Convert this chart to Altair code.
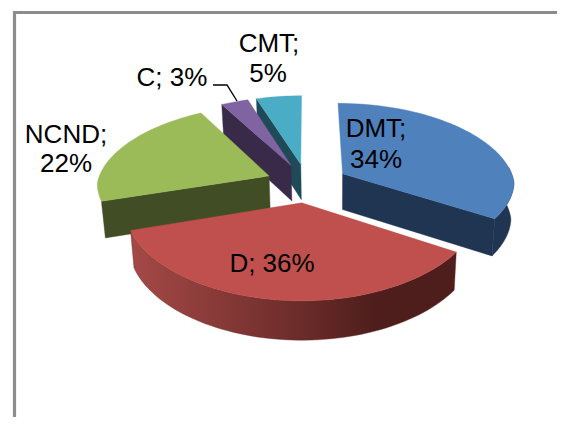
import math
import altair as alt
import pandas as pd

# ---- values
categories = ["DMT", "D", "NCND", "C", "CMT"]
shares = [34, 36, 22, 3, 5]
top_colors = ["#4F81BD", "#C0504D", "#9BBB59", "#8064A2", "#4BACC6"]
side_colors = ["#1F3552", "#7A302E", "#414D24", "#3A2A4A", "#1F4A58"]
label_lines = [["DMT;", "34%"], ["D; 36%"], ["NCND;", "22%"], ["C; 3%"], ["CMT;", "5%"]]

# ---- layout of the tilted, exploded pie (page pixels)
XC, YC, A, B, KX_BACK, KX_FRONT, KY, EXPLODE, DEPTH = 307, 183, 172, 81, 0.15, 0.08, 0.12, 0.24, 36
label_at = [[(376, 137), (376, 168)], [(272, 272)], [(66, 143), (66, 172)],
            [(172, 86)], [(269, 52), (268, 82)]]


def project(u, v, low=False):
    kx = KX_BACK if v > 0 else KX_FRONT
    x = XC + A * u / (1 + kx * v)
    y = YC - B * v / (1 + KY * v)
    if low:
        x += -0.017 * (x - 335)
        y += DEPTH / (1 + 0.07 * v)
    return x, y


bounds = []
total = 0
for s in shares:
    bounds.append((total * 3.6, (total + s) * 3.6))
    total += s


def offset(i):
    mid = math.radians(sum(bounds[i]) / 2)
    return EXPLODE * math.sin(mid), EXPLODE * math.cos(mid)


def rim(i, a0, a1, low=False):
    ox, oy = offset(i)
    n = max(2, int(abs(a1 - a0) / 2))
    pts = []
    for j in range(n + 1):
        t = math.radians(a0 + (a1 - a0) * j / n)
        pts.append(project(ox + math.sin(t), oy + math.cos(t), low))
    return pts


def apex(i, low=False):
    ox, oy = offset(i)
    return project(ox, oy, low)


def top(i):
    a0, a1 = bounds[i]
    return [apex(i)] + rim(i, a0, a1)


def cut(i, a):
    return [apex(i)] + rim(i, a, a, False)[:1] + rim(i, a, a, True)[:1] + [apex(i, True)]


def band(i, a0, a1):
    return rim(i, a0, a1) + rim(i, a1, a0, True)


X = alt.Scale(domain=[8, 557], range=[0, 549])
Y = alt.Scale(domain=[8, 417], range=[0, 409])


def poly(points, fill):
    df = pd.DataFrame({"x": [p[0] for p in points] + [points[0][0]],
                       "y": [p[1] for p in points] + [points[0][1]],
                       "o": list(range(len(points) + 1))})
    stroke = fill if isinstance(fill, str) else "#6B2B29"
    return alt.Chart(df).mark_line(fill=fill, stroke=stroke, strokeWidth=0.4, interpolate="linear").encode(
        x=alt.X("x:Q", scale=X, axis=None),
        y=alt.Y("y:Q", scale=Y, axis=None),
        order="o:Q",
    )


red_gradient = alt.Gradient(
    gradient="linear", x1=0, x2=1, y1=0, y2=0,
    stops=[alt.GradientStop(offset=0, color="#A54947"),
           alt.GradientStop(offset=0.5, color="#6E2D2B"),
           alt.GradientStop(offset=0.75, color="#4E1E1C"),
           alt.GradientStop(offset=1, color="#4E1E1C")],
)

layers = []
# back to front: CMT, C, DMT, NCND, D
for i in (4, 3):
    layers += [poly(cut(i, bounds[i][0]), side_colors[i]), poly(top(i), top_colors[i])]
layers += [poly(cut(0, bounds[0][1]), side_colors[0]),
           poly(band(0, 85, bounds[0][1]), side_colors[0]),
           poly(top(0), top_colors[0])]
layers += [poly(cut(2, bounds[2][0]), side_colors[2]), poly(top(2), top_colors[2])]
layers += [poly(band(1, bounds[1][0], bounds[1][1]), red_gradient), poly(top(1), top_colors[1])]

# frame
frame_x = [14.5, 14.5, 557]
frame_y = [417, 12.5, 12.5]
frame = pd.DataFrame({"x": frame_x, "y": frame_y, "o": [0, 1, 2]})
layers.insert(0, alt.Chart(frame).mark_line(stroke="#8C8C8C", strokeWidth=3.2).encode(
    x=alt.X("x:Q", scale=X, axis=None), y=alt.Y("y:Q", scale=Y, axis=None), order="o:Q"))

# leader of the C label
leader_x = [213, 227, 237]
leader_y = [85, 85, 101]
leader = pd.DataFrame({"x": leader_x, "y": leader_y, "o": [0, 1, 2]})
layers.append(alt.Chart(leader).mark_line(stroke="#000000", strokeWidth=1.4).encode(
    x=alt.X("x:Q", scale=X, axis=None), y=alt.Y("y:Q", scale=Y, axis=None), order="o:Q"))

rows = []
for lines, spots in zip(label_lines, label_at):
    for line, (lx, ly) in zip(lines, spots):
        rows.append({"t": line, "x": lx, "y": ly})
layers.append(alt.Chart(pd.DataFrame(rows)).mark_text(
    font="Liberation Sans", fontSize=26, color="#000000", align="center", baseline="alphabetic"
).encode(x=alt.X("x:Q", scale=X, axis=None), y=alt.Y("y:Q", scale=Y, axis=None), text="t:N"))

chart = alt.layer(*layers).properties(
    width=549, height=409, padding=0, autosize=alt.AutoSizeParams(type="none"), background="#FFFFFF"
).configure_view(stroke=None)

chart.save("out.html", embed_options={"renderer": "svg", "actions": False})
